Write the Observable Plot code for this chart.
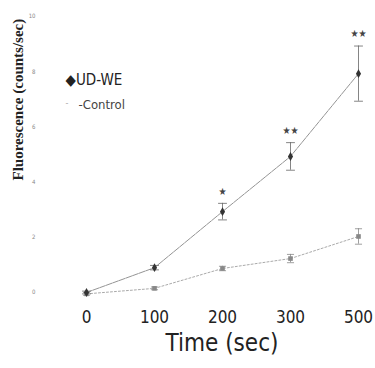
<!DOCTYPE html>
<html><head><meta charset="utf-8">
<script src="https://cdn.jsdelivr.net/npm/d3@7"></script>
<script src="https://cdn.jsdelivr.net/npm/@observablehq/plot@0.6"></script>
<style>body{margin:0;background:#fff}</style>
</head><body><div id="chart"></div>
<script>
const times = ["0", "100", "200", "300", "500"];
const udwe = [0.0, 0.9, 2.93, 4.93, 7.93];
const udweErr = [0.05, 0.08, 0.3, 0.5, 1.0];
const control = [-0.05, 0.15, 0.87, 1.23, 2.03];
const controlErr = [0.05, 0.05, 0.08, 0.15, 0.28];
const stars = ["", "", "★", "★★", "★★"];
const yTicks = [0, 2, 4, 6, 8, 10];

const rows = [];
times.forEach((t, i) => {
  rows.push({t, s: "UD-WE", v: udwe[i], e: udweErr[i], star: stars[i]});
  rows.push({t, s: "Control", v: control[i], e: controlErr[i], star: ""});
});
const ud = rows.filter(d => d.s === "UD-WE");
const ct = rows.filter(d => d.s === "Control");

const capSymbol = {draw(ctx, size) { const r = Math.sqrt(size); ctx.moveTo(-r, 0); ctx.lineTo(r, 0); }};
const narrow = "'DejaVu Sans Condensed','Liberation Sans Narrow',sans-serif";

const chart = Plot.plot({
  width: 375, height: 368,
  marginLeft: 85, marginRight: 17, marginTop: 16, marginBottom: 76,
  style: {background: "#fff", fontFamily: narrow, fontStretch: "condensed"},
  x: {type: "point", domain: times, padding: 0},
  y: {domain: [0, 10]},
  marks: [
    Plot.axisY({ticks: yTicks, tickSize: 0, tickPadding: 50, fontSize: 6, fill: "#888", label: null}),
    Plot.axisX({tickSize: 0, tickPadding: 18, fontSize: 17, fill: "#222", label: null, letterSpacing: -1.2}),
    Plot.line(ct, {x: "t", y: "v", stroke: "#aaa", strokeWidth: 1, strokeDasharray: "2,2"}),
    Plot.line(ud, {x: "t", y: "v", stroke: "#888", strokeWidth: 0.9, strokeDasharray: "6,1"}),
    Plot.ruleX(ct, {x: "t", y1: d => d.v - d.e, y2: d => d.v + d.e, stroke: "#888", strokeWidth: 0.8}),
    Plot.dot(ct, {x: "t", y: d => d.v - d.e, symbol: capSymbol, r: 2, stroke: "#888", strokeWidth: 0.8}),
    Plot.dot(ct, {x: "t", y: d => d.v + d.e, symbol: capSymbol, r: 2, stroke: "#888", strokeWidth: 0.8}),
    Plot.ruleX(ud, {x: "t", y1: d => d.v - d.e, y2: d => d.v + d.e, stroke: "#666", strokeWidth: 0.8}),
    Plot.dot(ud, {x: "t", y: d => d.v - d.e, symbol: capSymbol, r: 2.5, stroke: "#666", strokeWidth: 0.8}),
    Plot.dot(ud, {x: "t", y: d => d.v + d.e, symbol: capSymbol, r: 2.5, stroke: "#666", strokeWidth: 0.8}),
    Plot.dot(ct, {x: "t", y: "v", symbol: "square", r: 2.6, fill: "#888"}),
    Plot.dot(ud, {x: "t", y: "v", symbol: "diamond", r: 2.7, fill: "#333"}),
    Plot.text(ud, {x: "t", y: d => d.v + d.e, text: "star", dy: -12, fontSize: 10, fill: "#444", fontFamily: "DejaVu Sans", letterSpacing: -1}),
    Plot.text(["◆UD-WE"], {frameAnchor: "top-left", dx: -20, dy: 58, textAnchor: "start", fontSize: 15, fill: "#222", letterSpacing: -1}),
    Plot.text(["-"], {frameAnchor: "top-left", dx: -20, dy: 83, textAnchor: "start", fontSize: 9, fill: "#aaa"}),
    Plot.text(["-Control"], {frameAnchor: "top-left", dx: -7, dy: 83, textAnchor: "start", fontSize: 13, fill: "#444", letterSpacing: -1}),
    Plot.text(["Fluorescence (counts/sec)"], {frameAnchor: "left", rotate: -90, dx: -67, dy: 26, fontSize: 15, fontWeight: "bold", fill: "#222", fontFamily: "'Liberation Serif','Times New Roman',serif"}),
    Plot.text(["Time (sec)"], {frameAnchor: "bottom", dy: 58, fontSize: 24, fill: "#222", letterSpacing: -1})
  ]
});
document.getElementById("chart").append(chart);
</script>
</body></html>
